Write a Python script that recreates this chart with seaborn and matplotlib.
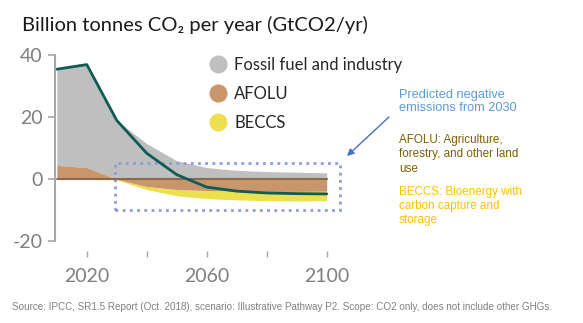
import numpy as np
import pandas as pd
import matplotlib
matplotlib.use("Agg")
import matplotlib.pyplot as plt
from matplotlib.lines import Line2D
from matplotlib.patches import Rectangle
import seaborn as sns

# ---- data ----
years = [2010, 2020, 2030, 2040, 2050, 2060, 2070, 2080, 2090, 2100]
fossil = [31.0, 33.2, 19.0, 11.5, 6.0, 3.8, 2.9, 2.5, 2.3, 2.1]
afolu = [4.5, 3.8, 0.0, -2.3, -3.3, -3.6, -3.8, -3.9, -3.9, -3.8]
beccs = [0.0, 0.0, -0.2, -1.0, -2.0, -2.6, -2.8, -3.0, -3.1, -3.1]
net = [35.5, 37.0, 19.0, 8.4, 1.5, -2.5, -3.8, -4.4, -4.6, -4.7]
legend_labels = ["Fossil fuel and industry", "AFOLU", "BECCS"]
xtick_major = [2020, 2060, 2100]
xtick_minor = [2040, 2080]
ytick_vals = [-20, 0, 20, 40]
box_x = [2029.5, 2104.3]
box_y = [-9.8, 5.4]

df = pd.DataFrame({"year": years, "fossil": fossil, "afolu": afolu,
                   "beccs": beccs, "net": net})

c_grey = "#bfbfbf"
c_brown = "#c9966b"
c_yellow = "#ece04e"
c_line = "#0f5b56"
c_axis = "#a6a6a6"
c_tick = "#7f7f7f"

sns.set_style("white")
plt.rcParams["font.family"] = ["Lato", "DejaVu Sans"]

W, H = 583, 323
fig = plt.figure(figsize=(W / 100, H / 100), dpi=100)
ax = fig.add_axes([55 / W, 1 - 251 / H, 290 / W, 201 / H])

x = df["year"].to_numpy()
a = df["afolu"].to_numpy()
ap = np.maximum(a, 0)
an = np.minimum(a, 0)
ax.fill_between(x, ap, ap + df["fossil"].to_numpy(), color=c_grey, lw=0)
ax.fill_between(x, an, an + df["beccs"].to_numpy(), color=c_yellow, lw=0)
ax.fill_between(x, 0, a, color=c_brown, lw=0)
ax.plot([x[0], x[-1]], [0, 0], color="#8a6a4b", lw=1.5)
sns.lineplot(data=df, x="year", y="net", color=c_line, lw=2, ax=ax)

ax.set_xlim(2009.4, 2106.1)
ax.set_ylim(-23.1, 41.7)
ax.set_xlabel("")
ax.set_ylabel("")
for s in ["top", "right", "bottom"]:
    ax.spines[s].set_visible(False)
ax.spines["left"].set_bounds(-20, 40)
ax.spines["left"].set_color(c_axis)
ax.spines["left"].set_linewidth(1.5)
ax.set_yticks(ytick_vals)
ax.set_yticklabels([str(v) for v in ytick_vals])
ax.set_xticks(xtick_major)
ax.set_xticklabels([str(v) for v in xtick_major])
ax.set_xticks(xtick_minor, minor=True)
ax.tick_params(axis="y", which="both", direction="out", length=5, width=1.2,
               color=c_axis, labelcolor=c_tick, labelsize=14, pad=4, left=True)
ax.tick_params(axis="x", which="both", direction="out", length=4, width=1,
               color=c_axis, labelcolor=c_tick, labelsize=14, pad=8, bottom=True)

# dotted box around negative emissions
rect = Rectangle((box_x[0], box_y[0]), box_x[1] - box_x[0], box_y[1] - box_y[0],
                 fill=False, ec="#8e9ad6", lw=2, ls=(0, (1, 1.6)), clip_on=False)
ax.add_patch(rect)

# legend
handles = [Line2D([], [], marker="o", ls="", markersize=13, markeredgewidth=0,
                  color=c) for c in [c_grey, c_brown, c_yellow]]
leg = fig.legend(handles, legend_labels, loc="upper left",
                 bbox_to_anchor=(210 / W, 1 - 57 / H), frameon=False,
                 fontsize=12, handlelength=1.0, handletextpad=0.45,
                 labelspacing=0.78, borderpad=0, borderaxespad=0)

# title
fig.text(22 / W, 1 - 25 / H, "Billion tonnes CO₂ per year (GtCO2/yr)",
         fontsize=14.5, va="center", ha="left", color="#1a1a1a")

# annotations
arial = ["Liberation Sans", "DejaVu Sans"]
fig.text(399 / W, 1 - 89 / H, "Predicted negative\nemissions from 2030",
         fontsize=9.2, color="#5b9bd5", va="top", ha="left", family=arial,
         linespacing=1.15)
fig.text(399 / W, 1 - 134 / H, "AFOLU: Agriculture,\nforestry, and other land\nuse",
         fontsize=8.4, color="#7f6000", va="top", ha="left", family=arial,
         linespacing=1.25)
fig.text(399 / W, 1 - 186 / H, "BECCS: Bioenergy with\ncarbon capture and\nstorage",
         fontsize=8.4, color="#ffc000", va="top", ha="left", family=arial,
         linespacing=1.25)
ax.annotate("", xy=(347 / W, 1 - 156 / H), xycoords="figure fraction",
            xytext=(389 / W, 1 - 117 / H), textcoords="figure fraction",
            arrowprops=dict(arrowstyle="-|>", color="#4472c4", lw=1,
                            mutation_scale=10, shrinkA=0, shrinkB=0))

fig.text(12 / W, 1 - 307 / H,
         "Source: IPCC, SR1.5 Report (Oct. 2018), scenario: Illustrative Pathway P2. "
         "Scope: CO2 only, does not include other GHGs.",
         fontsize=7.15, color="#808080", va="center", ha="left", family=arial)

fig.savefig("out.png", dpi=100)
